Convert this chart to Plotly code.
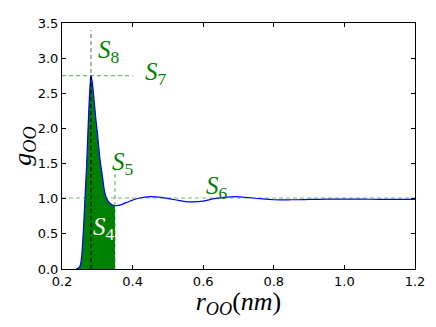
import plotly.graph_objects as go

# radial distribution function g_OO(r)
r_nm = [0.24, 0.25, 0.255, 0.26, 0.265, 0.27, 0.275, 0.28, 0.282, 0.285, 0.29,
        0.296, 0.30, 0.308, 0.315, 0.32, 0.325, 0.33, 0.335, 0.34, 0.345, 0.35,
        0.36, 0.37, 0.38, 0.39, 0.40, 0.42, 0.45, 0.48, 0.52, 0.55, 0.57, 0.60,
        0.63, 0.66, 0.69, 0.72, 0.76, 0.80, 0.85, 0.90, 0.95, 1.0, 1.05, 1.1,
        1.15, 1.2]
g_oo = [0.0, 0.03, 0.15, 0.5, 1.0, 1.5, 2.15, 2.65, 2.75, 2.68, 2.45,
        2.13, 1.95, 1.55, 1.3, 1.12, 1.02, 0.97, 0.94, 0.92, 0.905, 0.90,
        0.905, 0.92, 0.94, 0.96, 0.98, 1.01, 1.03, 1.02, 0.985, 0.96, 0.955, 0.965,
        1.0, 1.02, 1.03, 1.02, 1.0, 0.985, 0.985, 0.99, 0.995, 0.995, 0.995, 0.99,
        0.99, 0.99]

peak_r = 0.282
peak_g = 2.75
peak_top = 3.4
cut_r = 0.35
cut_top = 1.42
plateau_g = 1.01
x_range = [0.2, 1.2]
y_range = [0, 3.5]

labels = ["<i>S</i><sub>8</sub>", "<i>S</i><sub>7</sub>", "<i>S</i><sub>5</sub>",
          "<i>S</i><sub>6</sub>", "<i>S</i><sub>4</sub>"]
label_x = [0.296, 0.43, 0.336, 0.602, 0.281]
label_y = [3.1, 2.78, 1.5, 1.16, 0.57]
label_col = ["green", "green", "green", "green", "white"]

fill_r = [r for r in r_nm if r <= cut_r]
fill_g = g_oo[:len(fill_r)]

guide_green = "rgba(0,128,0,0.55)"
dash = "4px,3px"
serif = "Liberation Serif"

fig = go.Figure()
fig.add_trace(go.Scatter(x=fill_r, y=fill_g, fill="tozeroy", fillcolor="#008000",
                         mode="lines", line=dict(width=0, shape="spline"),
                         hoverinfo="skip"))
fig.add_trace(go.Scatter(x=r_nm, y=g_oo, mode="lines",
                         line=dict(color="#0000ff", width=1.2, shape="spline")))
fig.add_trace(go.Scatter(x=[peak_r, peak_r], y=[0, peak_top], mode="lines",
                         line=dict(color="rgba(0,0,0,0.5)", width=1.2, dash=dash)))
fig.add_trace(go.Scatter(x=[peak_r, peak_r], y=[0, peak_g], mode="lines",
                         line=dict(color="rgba(0,0,0,0.6)", width=1.2, dash=dash)))
fig.add_trace(go.Scatter(x=[x_range[0], 0.4], y=[peak_g, peak_g], mode="lines",
                         line=dict(color=guide_green, width=1.2, dash=dash)))
fig.add_trace(go.Scatter(x=x_range, y=[plateau_g, plateau_g], mode="lines",
                         line=dict(color=guide_green, width=1.2, dash=dash)))
fig.add_trace(go.Scatter(x=[cut_r, cut_r], y=[0, cut_top], mode="lines",
                         line=dict(color=guide_green, width=1.2, dash=dash)))

for t, x, y, c in zip(labels, label_x, label_y, label_col):
    fig.add_annotation(x=x, y=y, text=t, showarrow=False, xanchor="left",
                       yanchor="middle",
                       font=dict(family=serif, size=25, color=c))

axis = dict(showgrid=False, zeroline=False, showline=True, linecolor="black",
            linewidth=1, mirror="ticks", ticks="inside", ticklen=4,
            tickcolor="black", tickfont=dict(family="DejaVu Sans", size=13,
                                             color="black"))
fig.update_xaxes(range=x_range, dtick=0.2, tickformat=".1f",
                 title=dict(text="<i>r</i><sub><i>OO</i></sub>(<i>nm</i>)",
                            font=dict(family=serif, size=26, color="black"),
                            standoff=4), **axis)
fig.update_yaxes(range=y_range, dtick=0.5, tickformat=".1f",
                 title=dict(text="<i>g</i><sub><i>OO</i></sub>",
                            font=dict(family=serif, size=26, color="black"),
                            standoff=4), **axis)
# the page body adds an 8px margin, so the figure is sized to fit the window
fig.update_layout(width=425, height=311, showlegend=False,
                  margin=dict(l=53, r=13, t=8, b=50),
                  plot_bgcolor="white", paper_bgcolor="white")

fig.write_html("out.html")
